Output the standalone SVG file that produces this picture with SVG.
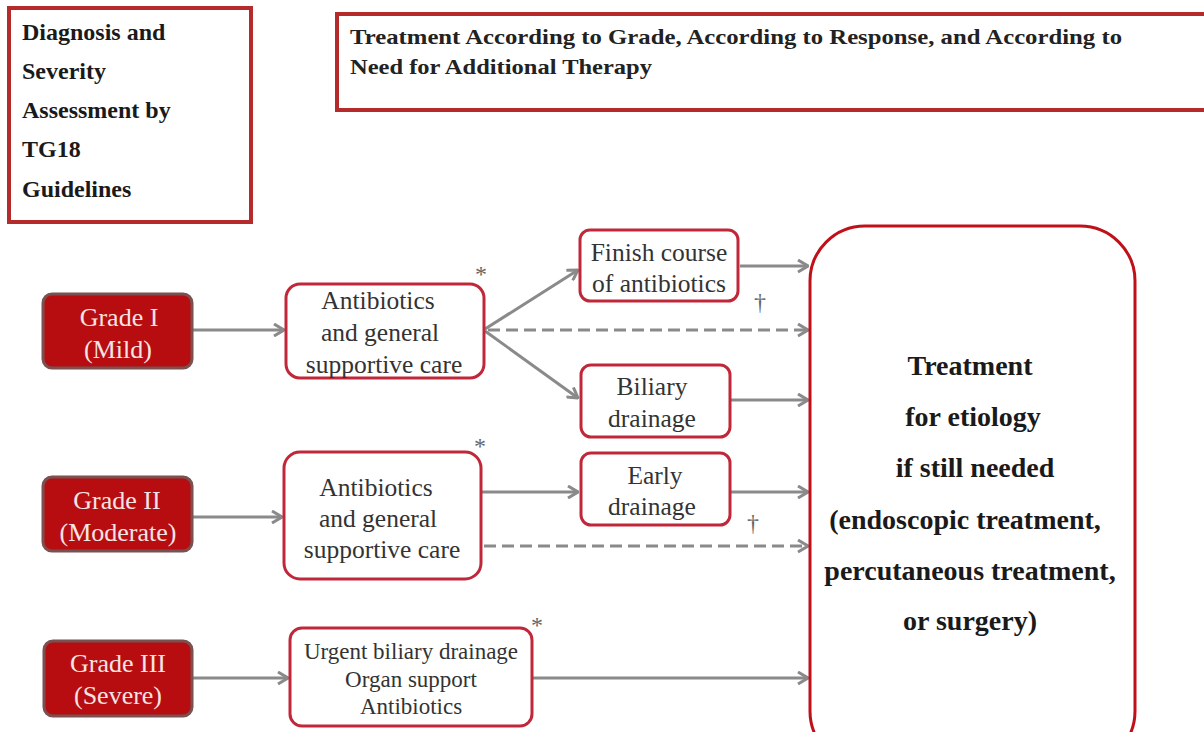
<svg xmlns="http://www.w3.org/2000/svg" width="1204" height="732" viewBox="0 0 1204 732">
<defs>
<style>
.hdr{fill:#fff;stroke:#b52a2a;stroke-width:4}
.hdrt{font-family:"Liberation Serif",serif;font-weight:bold;font-size:24px;fill:#1a1a1a}
.hdrt2{font-family:"Liberation Serif",serif;font-weight:bold;font-size:22px;fill:#222}
.grade{fill:#b80d10;stroke:#7a5050;stroke-width:3}
.gt{font-family:"Liberation Serif",serif;font-size:26px;fill:#f4e4e4;text-anchor:middle}
.box{fill:#fff;stroke:#c0283a;stroke-width:3}
.bt{font-family:"Liberation Serif",serif;font-size:25.5px;fill:#333;text-anchor:middle}
.bt2{font-family:"Liberation Serif",serif;font-size:23px;fill:#333;text-anchor:middle}
.big{fill:#fff;stroke:#c0101a;stroke-width:3}
.bigt{font-family:"Liberation Serif",serif;font-weight:bold;font-size:28px;fill:#1a1a1a;text-anchor:middle}
.mark{font-family:"Liberation Serif",serif;font-size:24px;fill:#666;text-anchor:middle}
.ln{fill:none;stroke:#8a8a8a;stroke-width:3;marker-end:url(#arr)}
.dash{stroke-dasharray:12 6}
</style>
<marker id="arr" viewBox="0 0 12 14" refX="11" refY="7" markerWidth="12" markerHeight="14" markerUnits="userSpaceOnUse" orient="auto">
<path d="M1,1 L11,7 L1,13" fill="none" stroke="#8a8a8a" stroke-width="3"/>
</marker>
</defs>
<rect width="1204" height="732" fill="#fff"/>

<g id="header-left">
<rect class="hdr" x="9" y="8" width="242" height="214"/>
<text class="hdrt" x="22" y="40">Diagnosis and</text>
<text class="hdrt" x="22" y="79">Severity</text>
<text class="hdrt" x="22" y="118">Assessment by</text>
<text class="hdrt" x="22" y="157" fill="#333">TG18</text>
<text class="hdrt" x="22" y="197">Guidelines</text>
</g>

<g id="header-right">
<rect class="hdr" x="337" y="14" width="880" height="96"/>
<text class="hdrt2" x="350" y="44" textLength="772" lengthAdjust="spacingAndGlyphs">Treatment  According to Grade, According to Response, and According to</text>
<text class="hdrt2" x="350" y="74" textLength="302" lengthAdjust="spacingAndGlyphs">Need for Additional Therapy</text>
</g>

<g id="connectors">
<line class="ln" x1="193" y1="330" x2="284" y2="330"/>
<line class="ln" x1="485" y1="329" x2="578" y2="270"/>
<line class="ln" x1="485" y1="331" x2="578" y2="398"/>
<line class="ln dash" x1="488" y1="330" x2="808" y2="330"/>
<line class="ln" x1="740" y1="266" x2="808" y2="266"/>
<line class="ln" x1="731" y1="400" x2="808" y2="400"/>
<line class="ln" x1="193" y1="517" x2="282" y2="517"/>
<line class="ln" x1="482" y1="492" x2="578" y2="492"/>
<line class="ln" x1="731" y1="492" x2="808" y2="492"/>
<line class="ln dash" x1="484" y1="546" x2="808" y2="546"/>
<line class="ln" x1="193" y1="678" x2="288" y2="678"/>
<line class="ln" x1="533" y1="678" x2="808" y2="678"/>
</g>

<g id="grade1">
<rect class="grade" x="43" y="294" width="149" height="74" rx="9"/>
<text class="gt" x="119" y="326">Grade I</text>
<text class="gt" x="118" y="358">(Mild)</text>
</g>
<g id="grade2">
<rect class="grade" x="43" y="477" width="149" height="74" rx="9"/>
<text class="gt" x="117" y="509">Grade II</text>
<text class="gt" x="118" y="541">(Moderate)</text>
</g>
<g id="grade3">
<rect class="grade" x="44" y="641" width="148" height="75" rx="9"/>
<text class="gt" x="118" y="672">Grade III</text>
<text class="gt" x="118" y="704">(Severe)</text>
</g>

<g id="antibiotics1">
<rect class="box" x="286" y="284" width="198" height="94" rx="14"/>
<text class="bt" x="378" y="309">Antibiotics</text>
<text class="bt" x="380" y="341">and general</text>
<text class="bt" x="384" y="373">supportive care</text>
<text class="mark" x="481" y="282">*</text>
</g>
<g id="finish">
<rect class="box" x="580" y="230" width="158" height="71" rx="10"/>
<text class="bt" x="659" y="261">Finish course</text>
<text class="bt" x="659" y="292">of antibiotics</text>
</g>
<g id="biliary">
<rect class="box" x="581" y="365" width="149" height="72" rx="10"/>
<text class="bt" x="652" y="395">Biliary</text>
<text class="bt" x="652" y="427">drainage</text>
</g>
<g id="antibiotics2">
<rect class="box" x="284" y="452" width="197" height="127" rx="16"/>
<text class="bt" x="376" y="496">Antibiotics</text>
<text class="bt" x="378" y="527">and general</text>
<text class="bt" x="382" y="558">supportive care</text>
<text class="mark" x="480" y="454">*</text>
</g>
<g id="early">
<rect class="box" x="581" y="453" width="149" height="72" rx="10"/>
<text class="bt" x="655" y="484">Early</text>
<text class="bt" x="652" y="515">drainage</text>
</g>
<g id="grade3-treatment">
<rect class="box" x="290" y="628" width="242" height="98" rx="12"/>
<text class="bt2" x="411" y="659">Urgent biliary drainage</text>
<text class="bt2" x="411" y="687">Organ support</text>
<text class="bt2" x="411" y="714">Antibiotics</text>
<text class="mark" x="537" y="633">*</text>
</g>
<g id="dagger1"><text class="mark" x="760" y="310">†</text></g>
<g id="dagger2"><text class="mark" x="753" y="531">†</text></g>

<g id="etiology">
<rect class="big" x="810" y="226" width="325" height="540" rx="55"/>
<text class="bigt" x="970" y="375">Treatment</text>
<text class="bigt" x="973" y="426">for etiology</text>
<text class="bigt" x="975" y="477">if still needed</text>
<text class="bigt" x="965" y="529">(endoscopic treatment,</text>
<text class="bigt" x="970" y="580">percutaneous treatment,</text>
<text class="bigt" x="970" y="630">or surgery)</text>
</g>
</svg>
